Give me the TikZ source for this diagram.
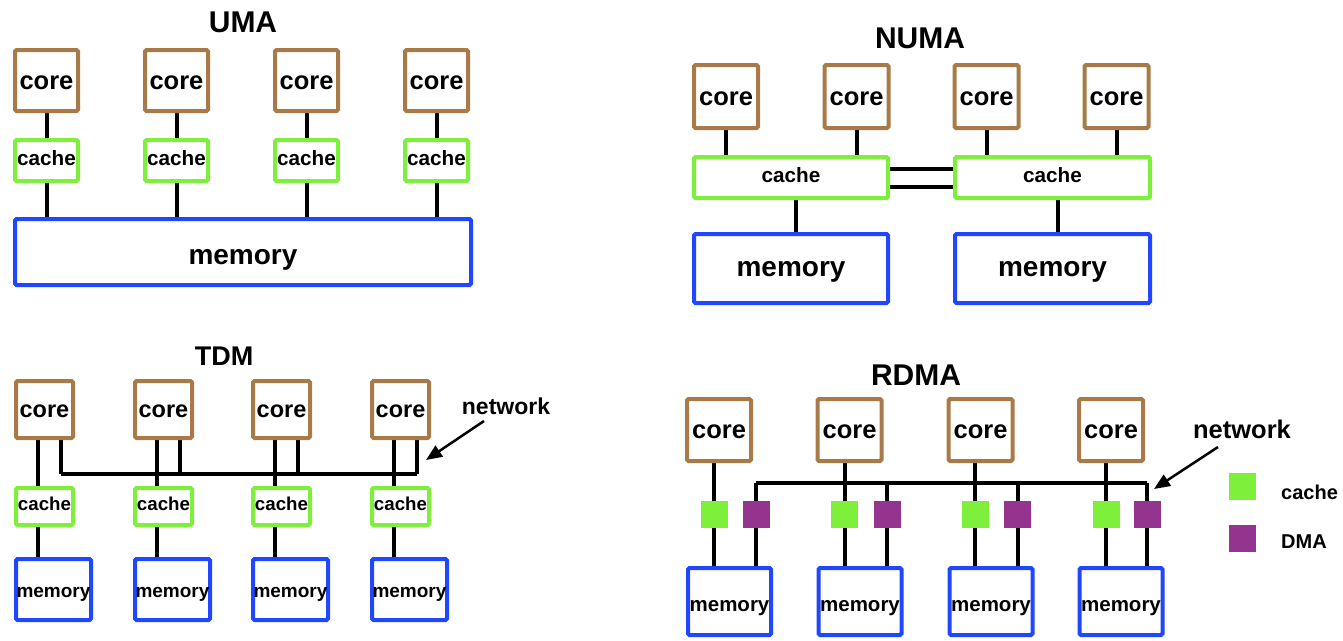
\documentclass[tikz,border=0pt]{standalone}
\usepackage{fontspec}
\setmainfont{Liberation Sans}
\usetikzlibrary{arrows.meta,calc}
\pgfdeclarelayer{background}
\pgfsetlayers{background,main}
\definecolor{corebrown}{RGB}{168,122,72}
\definecolor{cachegreen}{RGB}{126,240,60}
\definecolor{memblue}{RGB}{32,70,255}
\definecolor{dmapurple}{RGB}{148,52,142}
\newcommand{\myfs}[1]{\bfseries\fontsize{#1}{#1}\selectfont}
\begin{document}
\begin{tikzpicture}[x=1pt,y=-1pt,
  box/.style={draw, line width=4pt, rounded corners=1.5pt, inner sep=0pt, fill=white, text depth=0pt},
  corebox/.style={box, draw=corebrown, font=\myfs{25.5}, text height=17.2pt},
  cachebox/.style={box, draw=cachegreen, font=\myfs{20.7}, text height=9.7pt},
  membox/.style={box, draw=memblue, font=\myfs{28}, text height=16.5pt},
  link/.style={line width=4pt},
  ttl/.style={font=\myfs{30}},
  sq/.style={inner sep=0pt, minimum size=27pt},
  gsq/.style={sq, fill=cachegreen},
  psq/.style={sq, fill=dmapurple},
  netarrow/.style={line width=2.5pt, -{Triangle[length=16pt,width=13pt]}},
  lbl/.style={font=\myfs{20}, anchor=west, inner sep=0pt}
]
\useasboundingbox (0,0) rectangle (1343,640);

% ================= UMA =================
\node[ttl] (umat) at (243,22) {UMA};
\foreach \i/\x in {1/46.5,2/176.5,3/306.5,4/436.5}{
  \node[corebox, minimum width=63pt, minimum height=61pt] (uc\i) at (\x,80.5) {core};
  \node[cachebox, text height=10.7pt, minimum width=63pt, minimum height=41pt] (uk\i) at (\x,160.5) {cache};
}
\node[membox, text height=25.5pt, minimum width=456pt, minimum height=66pt] (um) at (243,252) {memory};
\begin{pgfonlayer}{background}
\foreach \i in {1,...,4}{
  \draw[link] (uc\i.south) -- (uk\i.north);
  \draw[link] (uk\i.south) -- (uk\i.south |- um.north);
}
\end{pgfonlayer}

% ================= NUMA =================
\node[ttl] (numat) at (920,38) {NUMA};
\foreach \i/\x in {1/726,2/856.5,3/986.5,4/1116.5}{
  \node[corebox, minimum width=64pt, minimum height=63pt] (nc\i) at (\x,96.5) {core};
}
\node[cachebox, minimum width=194pt, minimum height=41pt] (nk1) at (791,177.5) {cache};
\node[cachebox, minimum width=195pt, minimum height=41pt] (nk2) at (1052.5,177.5) {cache};
\node[membox, minimum width=194pt, minimum height=69pt] (nm1) at (791,268.5) {memory};
\node[membox, minimum width=195pt, minimum height=69pt] (nm2) at (1052.5,268.5) {memory};
\begin{pgfonlayer}{background}
\draw[link] (nc1.south) -- (nc1.south |- nk1.north);
\draw[link] (nc2.south) -- (nc2.south |- nk1.north);
\draw[link] (nc3.south) -- (nc3.south |- nk2.north);
\draw[link] (nc4.south) -- (nc4.south |- nk2.north);
\draw[link] ([xshift=5pt]nk1.south) -- ([xshift=5pt]nm1.north);
\draw[link] ([xshift=5pt]nk2.south) -- ([xshift=5pt]nm2.north);
\draw[link] ([yshift=9pt]nk1.east) -- ([yshift=9pt]nk2.west);
\draw[link] ([yshift=-9pt]nk1.east) -- ([yshift=-9pt]nk2.west);
\end{pgfonlayer}

% ================= TDM =================
\node[ttl, font=\myfs{27}] (tdmt) at (224,356) {TDM};
\foreach \i/\x/\mx in {1/44.5/53.5,2/163.5/172.5,3/281.5/290.5,4/400.5/409.5}{
  \node[corebox, font=\myfs{23.5}, text height=16.2pt, minimum width=57pt, minimum height=57pt] (tc\i) at (\x,409.5) {core};
  \node[cachebox, font=\myfs{18.7}, text height=8.7pt, minimum width=57pt, minimum height=37pt] (tk\i) at (\x,506.5) {cache};
  \node[membox, font=\myfs{19}, text height=15.9pt, minimum width=75pt, minimum height=61pt] (tm\i) at (\mx,589.5) {memory};
  \coordinate (tb\i) at ($(tc\i.south)+(16,34)$);
}
\begin{pgfonlayer}{background}
\foreach \i in {1,...,4}{
  \draw[link] ([xshift=-6.5pt]tc\i.south) -- ([xshift=-6.5pt]tc\i.south |- tk\i.north);
  \draw[link] ([xshift=-6.5pt]tk\i.south) -- ([xshift=-6.5pt]tk\i.south |- tm\i.north);
  \draw[link] ([xshift=16pt]tc\i.south) -- (tb\i);
}
\draw[link] (tb1) -- (tb4);
\end{pgfonlayer}
\node[font=\myfs{23}] (tnet) at (506,406) {network};
\coordinate (tarr) at (484,421);
\coordinate (ttip) at (426,460);
\draw[netarrow] (tarr) -- (ttip);

% ================= RDMA =================
\node[ttl] (rdmat) at (916,375) {RDMA};
\foreach \i/\x/\gx/\px/\mx in {1/719/714/756/729.5,2/849.5/844.5/887/860,3/980.5/975/1017.5/991,4/1111/1106/1147/1121}{
  \node[corebox, minimum width=64pt, minimum height=62pt] (rc\i) at (\x,430) {core};
  \node[gsq] (rg\i) at (\gx,514.5) {};
  \node[psq] (rp\i) at (\px,514.5) {};
  \node[membox, font=\myfs{20.5}, text height=20.6pt, minimum width=83pt, minimum height=67pt] (rm\i) at (\mx,601.5) {memory};
  \coordinate (rb\i) at ($(rp\i.north)+(0,-18)$);
}
\begin{pgfonlayer}{background}
\foreach \i in {1,...,4}{
  \draw[link] (rg\i.north |- rc\i.south) -- (rg\i.north);
  \draw[link] (rb\i) -- (rp\i.north);
  \draw[link] (rg\i.south) -- (rg\i.south |- rm\i.north);
  \draw[link] (rp\i.south) -- (rp\i.south |- rm\i.north);
}
\draw[link] (rb1) -- (rb4);
\end{pgfonlayer}
\node[font=\myfs{25.5}] (rnet) at (1242,429) {network};
\coordinate (rarr) at (1218,447);
\coordinate (rtip) at (1154,489);
\draw[netarrow] (rarr) -- (rtip);

% legend
\node[gsq] (lg) at (1242.5,486) {};
\node[psq] (lp) at (1242.5,538) {};
\node[lbl] (lgt) at (1281,492) {cache};
\node[lbl] (lpt) at (1281,542) {DMA};
\end{tikzpicture}
\end{document}
